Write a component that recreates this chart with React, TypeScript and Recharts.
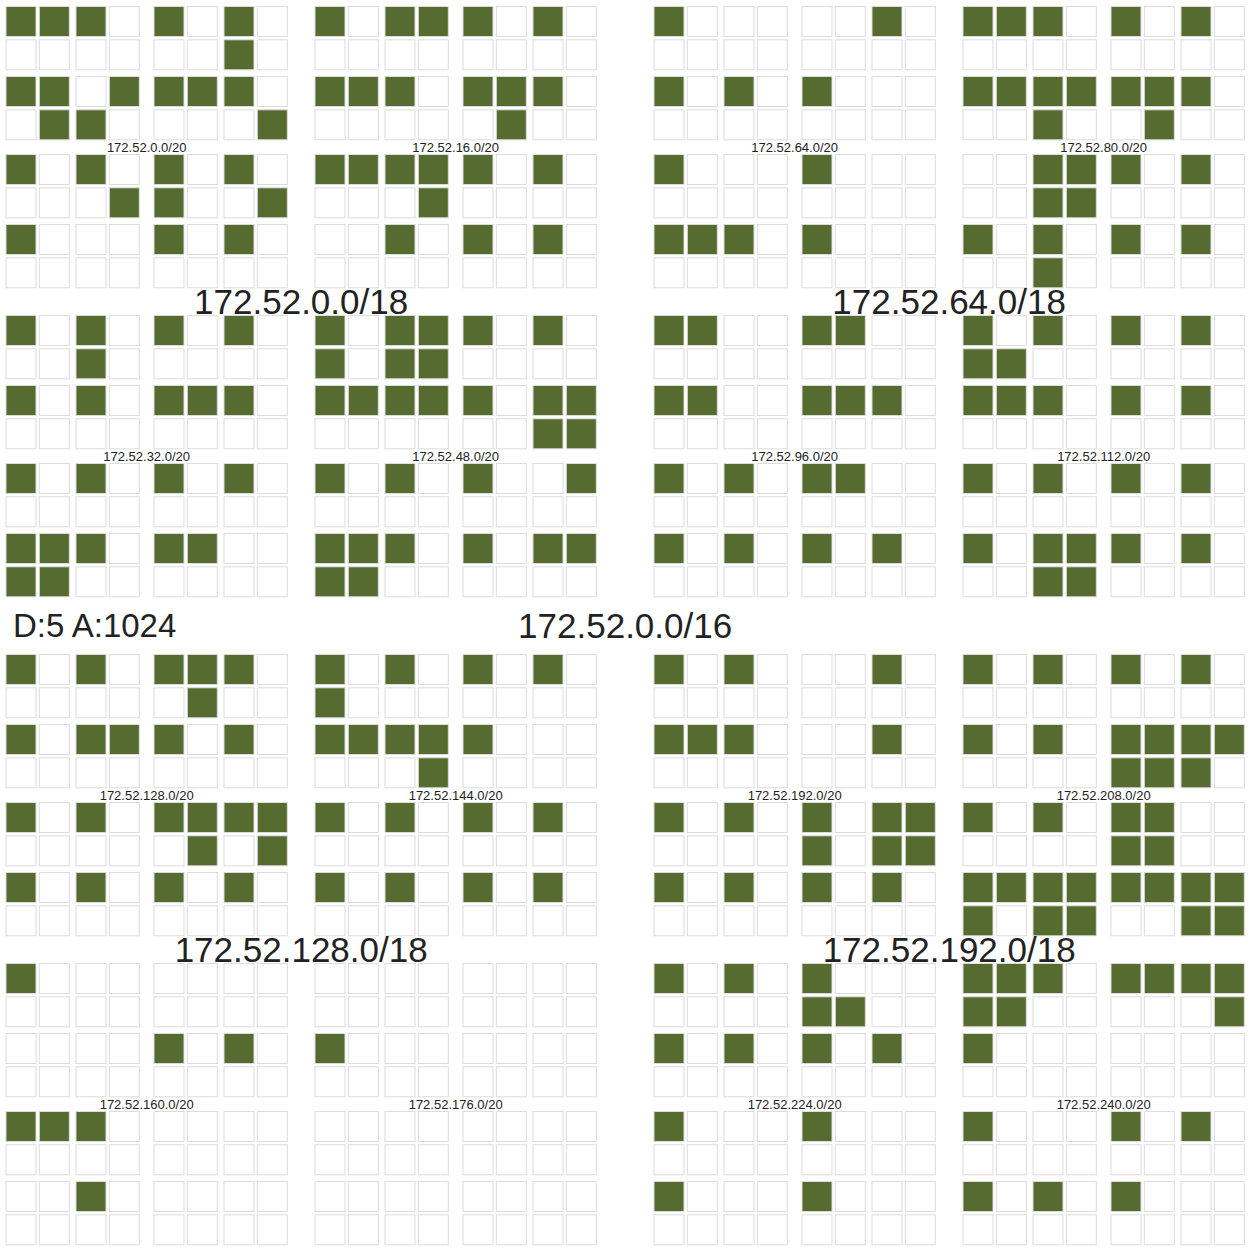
import React from "react";
import { ScatterChart, Scatter, XAxis, YAxis } from "recharts";

// allocation map of 172.52.0.0/16, one grid per /20, 8x8 /26 blocks ('#' = used)
const quad0: string[][] = [
  ["###.#.#.", "......#.", "##.####.", ".##....#", "#.#.#.#.", "...##..#", "#...#.#.", "........"],
  ["#.###.#.", "........", "###.###.", ".....#..", "#####.#.", "...#....", "..#.#.#.", "........"],
  ["#.#.#.#.", "..#.....", "#.#.###.", "........", "#.#.#.#.", "........", "###.##..", "##......"],
  ["#.###.#.", "#.##....", "#####.##", "......##", "#.#.#..#", "........", "###.#.##", "##......"],
];
const quad64: string[][] = [
  ["#.....#.", "........", "#.#.#...", "........", "#...#...", "........", "###.#...", "........"],
  ["###.#.#.", "........", "#######.", "..#..#..", "..###.#.", "..##....", "#.#.#.#.", "..#....."],
  ["##..##..", "........", "##..###.", "........", "#.#.##..", "........", "#.#.#.#.", "........"],
  ["#.#.#.#.", "##......", "###.#.#.", "........", "#.#.#.#.", "........", "#.###.#.", "..##...."],
];
const quad128: string[][] = [
  ["#.#.###.", ".....#..", "#.###.#.", "........", "#.#.####", ".....#.#", "#.#.#.#.", "........"],
  ["#.#.#.#.", "#.......", "#####...", "...#....", "#.#.#.#.", "........", "#.#.#.#.", "........"],
  ["#.......", "........", "....#.#.", "........", "###.....", "........", "..#.....", "........"],
  ["........", "........", "#.......", "........", "........", "........", "........", "........"],
];
const quad192: string[][] = [
  ["#.#...#.", "........", "###...#.", "........", "#.#.#.##", "....#.##", "#.#.#.#.", "........"],
  ["#.#.#.#.", "........", "#.#.####", "....###.", "#.#.##..", "....##..", "########", "#.##..##"],
  ["#.#.#...", "....##..", "#.#.#.#.", "........", "#...#...", "........", "#...#...", "........"],
  ["###.####", "##.....#", "#.......", "........", "#...#.#.", "........", "#.#.#...", "........"],
];

const labels18 = ["172.52.0.0/18", "172.52.64.0/18", "172.52.128.0/18", "172.52.192.0/18"];
const labels20 = [
  ["172.52.0.0/20", "172.52.16.0/20", "172.52.32.0/20", "172.52.48.0/20"],
  ["172.52.64.0/20", "172.52.80.0/20", "172.52.96.0/20", "172.52.112.0/20"],
  ["172.52.128.0/20", "172.52.144.0/20", "172.52.160.0/20", "172.52.176.0/20"],
  ["172.52.192.0/20", "172.52.208.0/20", "172.52.224.0/20", "172.52.240.0/20"],
];
const rootLabel = "172.52.0.0/16";
const statsLabel = "D:5 A:1024";

const W = 1250;
const H = 1251;
const X0 = 5.5;
const Y0 = 6;
const S18 = 648;
const S20 = 309;
const S22 = 148;
const S24 = 70;
const S26 = 33.3;
const CELL = 31;
const SPAN20 = S22 + S24 + S26 + CELL;
const SPAN18 = S20 + SPAN20;
const GREEN = "#556b2f";
const FONT = "'Liberation Sans', Arial, sans-serif";

const off = (i: number) => (i >> 2) * S22 + ((i >> 1) & 1) * S24 + (i & 1) * S26;

const quads = [quad0, quad64, quad128, quad192];
const used: { x: number; y: number }[] = [];
const free: { x: number; y: number }[] = [];
const labels: { x: number; y: number; text: string; size: number; anchor: string }[] = [];

quads.forEach((quad, q18) => {
  const bx = X0 + (q18 & 1) * S18;
  const by = Y0 + (q18 >> 1) * S18;
  quad.forEach((grid, q20) => {
    const gx = bx + (q20 & 1) * S20;
    const gy = by + (q20 >> 1) * S20;
    grid.forEach((row, r) => {
      row.split("").forEach((ch, c) => {
        const pt = { x: gx + off(c) + CELL / 2, y: gy + off(r) + CELL / 2 };
        (ch === "#" ? used : free).push(pt);
      });
    });
    labels.push({ x: gx + SPAN20 / 2, y: gy + S22 - 6.5, text: labels20[q18][q20], size: 13, anchor: "middle" });
  });
  labels.push({ x: bx + SPAN18 / 2, y: by + (SPAN20 + S20) / 2, text: labels18[q18], size: 35, anchor: "middle" });
});
labels.push({ x: X0 + (S18 + SPAN18) / 2, y: Y0 + (S18 + SPAN18) / 2, text: rootLabel, size: 35, anchor: "middle" });
labels.push({ x: 13, y: Y0 + (S18 + SPAN18) / 2, text: statsLabel, size: 33, anchor: "start" });

function Cell(props: any) {
  const { cx, cy, fill } = props;
  return (
    <rect
      x={cx - CELL / 2 + 0.5}
      y={cy - CELL / 2 + 0.5}
      width={CELL - 1}
      height={CELL - 1}
      fill={fill}
      stroke="#dcdcdc"
      strokeWidth={1}
    />
  );
}

function Label(props: any) {
  const { cx, cy, payload } = props;
  return (
    <text
      x={cx}
      y={cy}
      textAnchor={payload.anchor}
      dominantBaseline="central"
      fontSize={payload.size}
      fontFamily={FONT}
      fill="#222"
    >
      {payload.text}
    </text>
  );
}

export default function App() {
  return (
    <div style={{ position: "absolute", left: 0, top: 0, background: "#fff" }}>
      <ScatterChart width={W} height={H} margin={{ top: 0, right: 0, bottom: 0, left: 0 }}>
        <XAxis type="number" dataKey="x" domain={[0, W]} hide />
        <YAxis type="number" dataKey="y" domain={[0, H]} reversed hide />
        <Scatter data={free} fill="#ffffff" shape={Cell} isAnimationActive={false} />
        <Scatter data={used} fill={GREEN} shape={Cell} isAnimationActive={false} />
        <Scatter data={labels} fill="#222" shape={Label} isAnimationActive={false} />
      </ScatterChart>
    </div>
  );
}
